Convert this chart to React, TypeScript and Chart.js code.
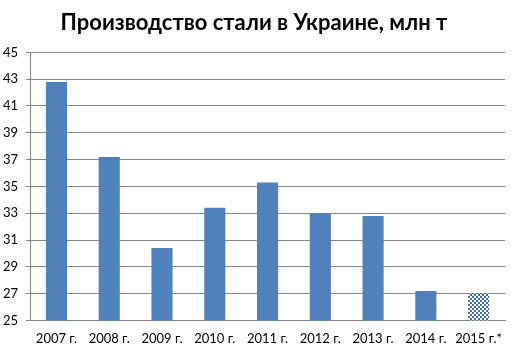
import React, { useEffect, useRef } from "react";
import { Chart, registerables } from "chart.js";

Chart.register(...registerables);

const categories = ["2007 г.", "2008 г.", "2009 г.", "2010 г.", "2011 г.", "2012 г.", "2013 г.", "2014 г.", "2015 г.*"];
const steelOutput = [42.8, 37.2, 30.4, 33.4, 35.3, 33.0, 32.8, 27.2, 27.0];
const forecastFlags = [false, false, false, false, false, false, false, false, true];
const titleText = "Производство стали в Украине, млн т";
const yMin = 25;
const yMax = 45;
const yStep = 2;

function makePattern(): CanvasPattern | string {
  const c = document.createElement("canvas");
  c.width = 4;
  c.height = 4;
  const ctx = c.getContext("2d");
  if (!ctx) return "#4F81BD";
  ctx.fillStyle = "#ffffff";
  ctx.fillRect(0, 0, 4, 4);
  ctx.fillStyle = "#3E6F9C";
  ctx.fillRect(0, 0, 2, 2);
  ctx.fillRect(2, 2, 2, 2);
  const p = ctx.createPattern(c, "repeat");
  return p || "#4F81BD";
}

export default function App() {
  const ref = useRef<HTMLCanvasElement>(null);
  useEffect(() => {
    if (!ref.current) return;
    const pattern = makePattern();
    const colors = forecastFlags.map((f) => (f ? pattern : "#4F81BD"));
    const chart = new Chart(ref.current, {
      type: "bar",
      data: {
        labels: categories,
        datasets: [
          {
            data: steelOutput,
            backgroundColor: colors as any,
            borderWidth: 0,
            categoryPercentage: 1,
            barPercentage: 0.4,
          },
        ],
      },
      options: {
        responsive: false,
        animation: false,
        layout: { padding: { left: 3, right: 8, top: 4, bottom: 3 } },
        plugins: {
          legend: { display: false },
          tooltip: { enabled: false },
          title: {
            display: true,
            text: titleText,
            color: "#000",
            font: { family: "Lato, 'Open Sans', sans-serif", size: 22, weight: "bold" },
            padding: { top: 6, bottom: 16 },
          },
        },
        scales: {
          x: {
            grid: { display: false },
            border: { display: true, color: "#868686" },
            ticks: {
              color: "#000",
              font: { family: "Lato, 'Open Sans', sans-serif", size: 13 },
              maxRotation: 0,
              autoSkip: false,
              padding: 3,
            },
          },
          y: {
            min: yMin,
            max: yMax,
            grid: { color: "#868686", tickLength: 4 },
            border: { display: true, color: "#868686" },
            ticks: {
              stepSize: yStep,
              color: "#000",
              font: { family: "Lato, 'Open Sans', sans-serif", size: 13 },
              crossAlign: "far",
              padding: 4,
            },
          },
        },
      },
    });
    return () => chart.destroy();
  }, []);
  return (
    <div style={{ position: "fixed", left: 0, top: 0, width: 513, height: 353, background: "#fff" }}>
      <canvas ref={ref} width={513} height={353} />
    </div>
  );
}
